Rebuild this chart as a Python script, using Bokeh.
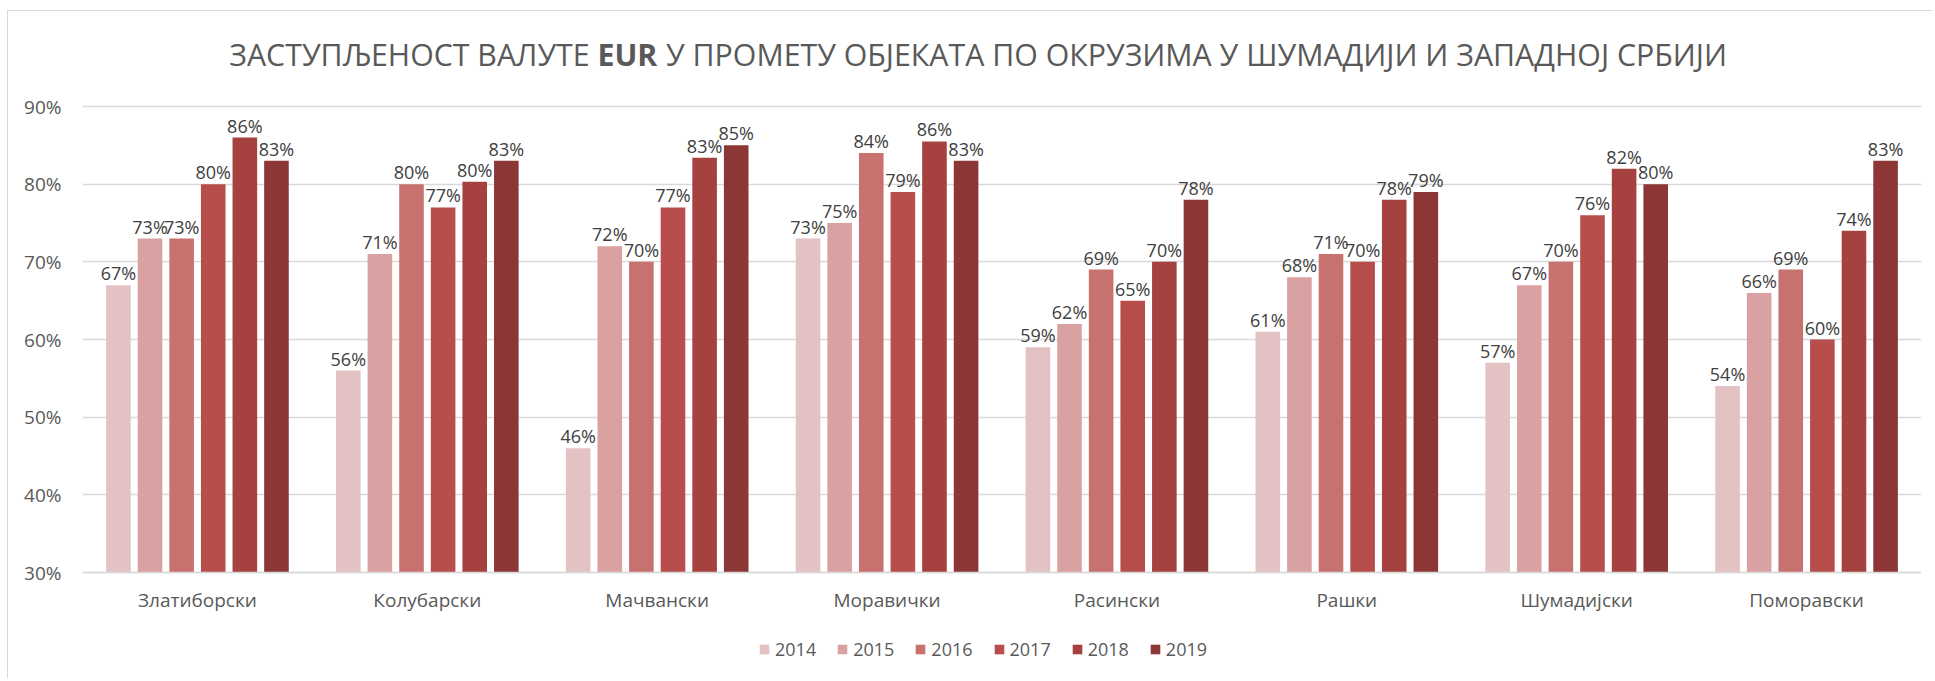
from bokeh.plotting import figure
from bokeh.models import (ColumnDataSource, FactorRange, Range1d, FixedTicker,
                          PrintfTickFormatter, Legend, LegendItem, Label)
from bokeh.transform import dodge
from bokeh.core.properties import value
from bokeh.embed import file_html
from bokeh.resources import INLINE

categories = ["Златиборски", "Колубарски", "Мачвански", "Моравички",
              "Расински", "Рашки", "Шумадијски", "Поморавски"]
years = ["2014", "2015", "2016", "2017", "2018", "2019"]
v2014 = [67, 56, 46, 73, 59, 61, 57, 54]
v2015 = [73, 71, 72, 75, 62, 68, 67, 66]
v2016 = [73, 80, 70, 84, 69, 71, 70, 69]
v2017 = [80, 77, 77, 79, 65, 70, 76, 60]
v2018 = [86, 80.3, 83.4, 85.5, 70, 78, 82, 74]
v2019 = [83, 83, 85, 83, 78, 79, 80, 83]
series = [v2014, v2015, v2016, v2017, v2018, v2019]
colors = ["#E3C2C3", "#D9A1A1", "#C87270", "#B84E4B", "#A54240", "#8C3636"]
y_ticks = [30, 40, 50, 60, 70, 80, 90]
title_left = "ЗАСТУПЉЕНОСТ ВАЛУТЕ"
title_bold = "EUR"
title_right = "У ПРОМЕТУ ОБЈЕКАТА ПО ОКРУЗИМА У ШУМАДИЈИ И ЗАПАДНОЈ СРБИЈИ"

FONT = "Open Sans"
# page geometry (pixels)
OX, OY = 8, 11            # page position of figure content
W, H = 1925, 668
FL, FR = 82, 1921         # plot area left / right
GT, GB = 106, 572         # pixel rows of 90% and 30% gridlines
ppu = (GB - GT) / (y_ticks[-1] - y_ticks[0])
y0 = y_ticks[0] - (OY + H - GB) / ppu
y1 = y_ticks[-1] + (GT - OY) / ppu

p = figure(x_range=FactorRange(*categories), y_range=Range1d(y0, y1),
           width=W, height=H, output_backend="svg", toolbar_location=None,
           min_border_left=FL - OX, min_border_right=OX + W - FR,
           min_border_top=0, min_border_bottom=0)
p.styles = {"margin-left": "7px", "margin-top": "10px",
            "border-left": "1px solid #d9d9d9", "border-top": "1px solid #d9d9d9"}
p.outline_line_color = None

pitch = 0.1375
bw = 0.107
items = []
for i, (yr, vals, col) in enumerate(zip(years, series, colors)):
    src = ColumnDataSource(dict(cat=categories, val=vals,
                                lab=[f"{round(v)}%" for v in vals]))
    off = (i - 2.5) * pitch
    r = p.vbar(x=dodge("cat", off, range=p.x_range), top="val", bottom=y_ticks[0],
               width=bw, source=src, fill_color=col, line_color=None)
    p.text(x=dodge("cat", off, range=p.x_range), y="val", text="lab", source=src,
           text_align="center", text_baseline="alphabetic", y_offset=-12,
           text_font=value(FONT), text_font_size="18px", text_color="#404040")
    items.append(LegendItem(label=yr, renderers=[r]))

p.xgrid.grid_line_color = None
p.ygrid.grid_line_color = "#d9d9d9"
p.ygrid.grid_line_width = 1.3
p.yaxis.ticker = FixedTicker(ticks=y_ticks)
p.yaxis.formatter = PrintfTickFormatter(format="%d%%")
p.yaxis.axis_line_color = None
p.yaxis.major_tick_line_color = None
p.yaxis.minor_tick_line_color = None
p.yaxis.major_label_standoff = 15
p.xaxis.fixed_location = y_ticks[0]
p.xaxis.axis_line_color = "#d9d9d9"
p.xaxis.axis_line_width = 1.3
p.xaxis.major_tick_line_color = None
p.xaxis.major_label_standoff = 8
for ax in (p.xaxis[0], p.yaxis[0]):
    ax.major_label_text_font = FONT
    ax.major_label_text_font_size = "19px"
    ax.major_label_text_color = "#595959"

# legend inside the (tall) plot frame, below the axis labels
legend = Legend(items=items, orientation="horizontal",
                location=(758 - FL, OY + H - 661),
                glyph_width=12, glyph_height=12, label_text_font=FONT,
                label_text_font_size="18px", label_text_color="#595959",
                label_height=20, spacing=20, padding=0, margin=0,
                border_line_color=None, background_fill_alpha=0,
                label_standoff=5)
p.add_layout(legend, "center")

# title (three pieces so that EUR can be bold)
TS = 30.3
sp = 0.26 * TS
eur_w = 2.0 * TS
eur_x = 597 - FL
ty = OY + H - 54
common = dict(y=ty, x_units="screen", y_units="screen", text_baseline="alphabetic",
              text_font=FONT, text_font_size=f"{TS}px", text_color="#595959")
p.add_layout(Label(x=eur_x - sp, text=title_left, text_align="right", **common))
p.add_layout(Label(x=eur_x, text=title_bold, text_align="left",
                   text_font_style="bold", **common))
p.add_layout(Label(x=eur_x + eur_w + sp, text=title_right, text_align="left",
                   **common))

open("out.html", "w").write(file_html(p, INLINE))
